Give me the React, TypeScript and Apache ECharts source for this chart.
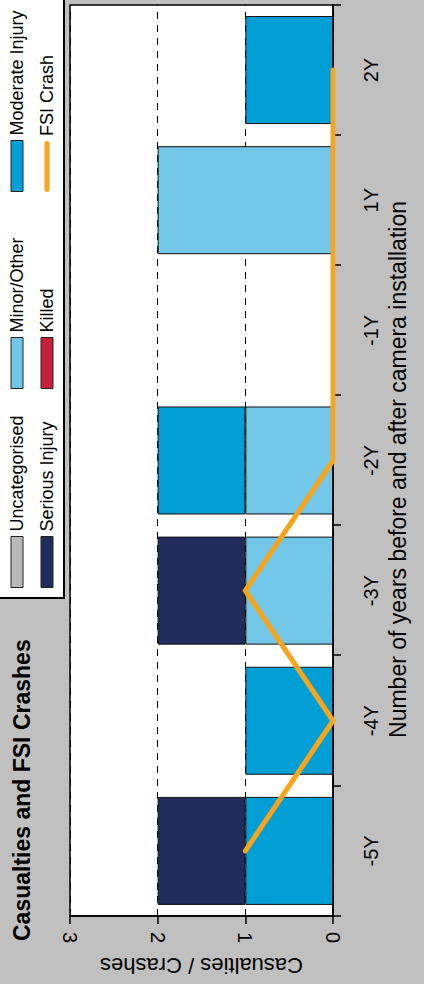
import React, { useEffect, useRef } from "react";
import * as echarts from "echarts";

const categories = ["-5Y", "-4Y", "-3Y", "-2Y", "-1Y", "1Y", "2Y"];
const uncategorised = [0, 0, 0, 0, 0, 0, 0];
const minorOther = [0, 0, 1, 1, 0, 2, 0];
const moderateInjury = [1, 1, 0, 1, 0, 0, 1];
const seriousInjury = [1, 0, 1, 0, 0, 0, 0];
const killed = [0, 0, 0, 0, 0, 0, 0];
const fsiCrash = [1, 0, 1, 0, 0, 0, 0];
const valueTicks = [0, 1, 2, 3];

const FONT = "Liberation Sans, Arial, sans-serif";
const W = 984;
const H = 424;
const ORANGE = "#f8a51c";

const barColors: Record<string, string> = {
  Uncategorised: "#b9b9b9",
  "Minor/Other": "#72c6e8",
  "Moderate Injury": "#029fd7",
  "Serious Injury": "#1f2c5c",
  Killed: "#c8203a",
};

const nz = (arr: number[]) => arr.map((v) => (v === 0 ? null : v));

export default function App() {
  const ref = useRef<HTMLDivElement>(null);
  useEffect(() => {
    if (!ref.current) return;
    const chart = echarts.init(ref.current, null, { renderer: "svg", width: W, height: H });
    const barSeries = (name: string, data: number[]) => ({
      name,
      type: "bar",
      stack: "total",
      data: nz(data),
      barCategoryGap: "17%",
      itemStyle: { color: barColors[name], borderColor: "#111", borderWidth: 1 },
    });
    const legendCommon = {
      orient: "vertical",
      top: 8,
      itemWidth: 51,
      itemHeight: 12,
      itemGap: 12,
      padding: 0,
      textStyle: { fontFamily: FONT, fontSize: 18, color: "#000", lineHeight: 18 },
      itemStyle: { borderWidth: 1, borderColor: "#222" },
      selectedMode: false,
    };
    chart.setOption({
      animation: false,
      backgroundColor: "#c0c0c0",
      title: {
        text: "Casualties and FSI Crashes",
        left: 43,
        top: 10,
        padding: 0,
        textStyle: { fontFamily: FONT, fontSize: 23, fontWeight: "bold", color: "#000" },
      },
      graphic: [
        {
          type: "rect",
          shape: { x: 386, y: -2, width: 620, height: 66 },
          style: { fill: "#fff", stroke: "#000", lineWidth: 2 },
          z: -1,
        },
      ],
      legend: [
        {
          ...legendCommon,
          left: 396,
          data: [
            { name: "Uncategorised", icon: "rect" },
            { name: "Serious Injury", icon: "rect" },
          ],
        },
        {
          ...legendCommon,
          left: 595,
          data: [
            { name: "Minor/Other", icon: "rect" },
            { name: "Killed", icon: "rect" },
          ],
        },
        {
          ...legendCommon,
          left: 792,
          data: [{ name: "Moderate Injury", icon: "rect" }],
        },
        {
          ...legendCommon,
          left: 792,
          top: 38,
          itemHeight: 5,
          itemStyle: { borderWidth: 0 },
          data: [
            {
              name: "FSI Crash",
              icon: "path://M2.5,0 L48.5,0 A2.5,2.5 0 0 1 48.5,5 L2.5,5 A2.5,2.5 0 0 1 2.5,0 Z",
            },
          ],
        },
      ],
      grid: {
        left: 64,
        right: 5,
        top: 70,
        bottom: 91,
        show: true,
        backgroundColor: "#fff",
        borderColor: "#000",
        borderWidth: 1.5,
      },
      xAxis: {
        type: "category",
        data: categories,
        boundaryGap: true,
        axisLine: { lineStyle: { color: "#000", width: 1.5 } },
        axisTick: { show: true, length: 8, lineStyle: { color: "#000", width: 1.5 } },
        axisLabel: { fontFamily: FONT, fontSize: 20, color: "#000", margin: 28 },
        name: "Number of years before and after camera installation",
        nameLocation: "middle",
        nameGap: 53,
        nameTextStyle: { fontFamily: FONT, fontSize: 23, color: "#000", padding: [0, 18, 0, 0] },
      },
      yAxis: {
        type: "value",
        min: valueTicks[0],
        max: valueTicks[valueTicks.length - 1],
        interval: 1,
        axisLine: { show: true, lineStyle: { color: "#000", width: 1.5 } },
        axisTick: { show: true, length: 8, lineStyle: { color: "#000", width: 1.5 } },
        axisLabel: { fontFamily: FONT, fontSize: 20, color: "#000", margin: 16, rotate: 180 },
        splitLine: { show: true, lineStyle: { color: "#000", width: 1, type: [7, 6] } },
        name: "Casualties / Crashes",
        nameLocation: "middle",
        nameGap: 32,
        nameTextStyle: { fontFamily: FONT, fontSize: 22, color: "#000" },
      },
      series: [
        barSeries("Uncategorised", uncategorised),
        barSeries("Minor/Other", minorOther),
        barSeries("Moderate Injury", moderateInjury),
        barSeries("Serious Injury", seriousInjury),
        barSeries("Killed", killed),
        {
          name: "FSI Crash",
          type: "line",
          data: fsiCrash,
          symbol: "none",
          z: 5,
          color: ORANGE,
          itemStyle: { color: ORANGE },
          lineStyle: { color: ORANGE, width: 5, cap: "round", join: "round" },
        },
      ],
    });
    return () => chart.dispose();
  }, []);
  return (
    <div
      style={{
        position: "fixed",
        left: 0,
        top: 0,
        width: 424,
        height: 984,
        overflow: "hidden",
        background: "#c0c0c0",
      }}
    >
      <div
        ref={ref}
        style={{
          position: "absolute",
          left: 0,
          top: 0,
          width: W,
          height: H,
          transformOrigin: "0 0",
          transform: `rotate(-90deg) translate(-${W}px, 0)`,
        }}
      />
    </div>
  );
}
